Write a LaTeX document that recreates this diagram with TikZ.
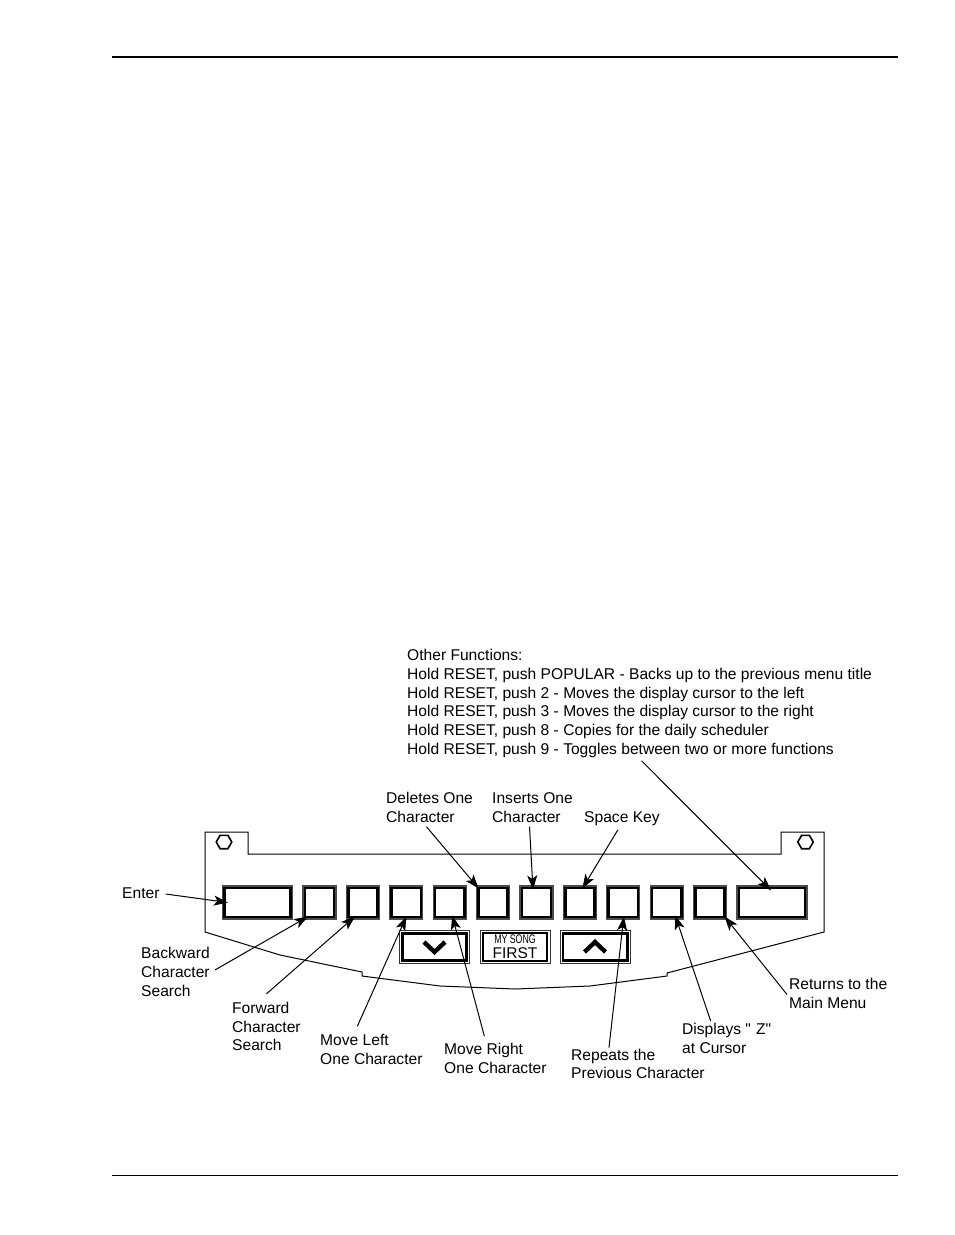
\documentclass[tikz,border=0pt]{standalone}
\usepackage{fontspec}
\setmainfont{Liberation Sans}
\usetikzlibrary{arrows.meta,shapes.geometric}
\newcommand{\straightq}{\XeTeXglyph\XeTeXcharglyph"22 }
\begin{document}
\begin{tikzpicture}[
		x=1pt, y=-1pt,
		node distance=43.4pt,
		keybox/.style={rectangle, draw=black!70, line width=1.2pt, fill=white, inner sep=0pt, minimum height=33pt, minimum width=33pt, align=center,
			path picture={\draw[black, line width=2.6pt] ([shift={(1.9pt,1.9pt)}]path picture bounding box.south west) rectangle ([shift={(-1.9pt,-1.9pt)}]path picture bounding box.north east);}},
		widekey/.style={keybox, minimum width=70pt},
		panelkey/.style={rectangle, draw=black!80, line width=1pt, fill=white, inner sep=0pt, minimum height=33pt, minimum width=70pt, align=center,
			path picture={\draw[black, line width=#1] ([shift={(2.8pt,2.8pt)}]path picture bounding box.south west) rectangle ([shift={(-2.8pt,-2.8pt)}]path picture bounding box.north east);}},
		tag/.style={inner sep=0pt, align=left, font=\fontsize{15.6}{18.75}\selectfont},
		arrow/.style={-{Stealth[length=14pt, width=10pt, inset=3.5pt]}, line width=1pt},
		screw/.style={regular polygon, regular polygon sides=6, draw, line width=1.6pt, inner sep=0pt, minimum size=15.5pt},
		chevron/.style={line width=4.4pt}
	]
	\useasboundingbox (0,0) rectangle (954,1235);
	\draw[line width=2pt] (112,57) -- (898,57);
	\draw[line width=1pt] (112,1175) -- (898,1175);

	% plate
	\draw[line width=1pt] (205,832) -- (248,832) -- (248,854) -- (781,854) -- (781,832) -- (824,832) -- (824,932)
		-- (667,973) -- (667,976) -- (590,986) -- (515,989) -- (440,986) -- (362,976) -- (362,972) -- (280,955) -- (205,932) -- cycle;
	\node[screw] (screwl) at (224,842) {};
	\node[screw] (screwr) at (805.5,842) {};

	% keys
	\node[widekey] (enter) at (257.5,902.5) {};
	\node[keybox] (k1) at (319.5,902.5) {};
	\node[keybox, right of=k1] (k2) {};
	\node[keybox, right of=k2] (k3) {};
	\node[keybox, right of=k3] (k4) {};
	\node[keybox, right of=k4] (k5) {};
	\node[keybox, right of=k5] (k6) {};
	\node[keybox, right of=k6] (k7) {};
	\node[keybox, right of=k7] (k8) {};
	\node[keybox, right of=k8] (k9) {};
	\node[keybox, right of=k9] (k10) {};
	\node[widekey] (popular) at (772,902.5) {};
	\node[panelkey=2.6pt] (down) at (434.5,947) {};
	\node[panelkey=1.8pt, font=\fontsize{15.5}{15}\selectfont] (first) at (515,947) {\scalebox{0.7}[1]{\fontsize{12.5}{12.5}\selectfont MY SONG}\\FIRST};
	\node[panelkey=2.6pt] (up) at (595,947) {};
	\draw[chevron] ([shift={(-10.5pt,5pt)}]down.center) -- ([yshift=-5pt]down.center) -- ([shift={(10.5pt,5pt)}]down.center);
	\draw[chevron] ([shift={(-10.5pt,-5pt)}]up.center) -- ([yshift=5pt]up.center) -- ([shift={(10.5pt,-5pt)}]up.center);

	% labels
	\node[tag, anchor=west] (lenter) at (122,893) {Enter};
	\node[tag, anchor=west] (lback) at (141,972) {Backward\\Character\\Search};
	\node[tag, anchor=west] (lfwd) at (232,1026.5) {Forward\\Character\\Search};
	\node[tag, anchor=west] (lleft) at (320,1049.5) {Move Left\\One Character};
	\node[tag, anchor=west] (lright) at (444,1058.5) {Move Right\\One Character};
	\node[tag, anchor=west] (lrepeat) at (571,1064) {Repeats the\\Previous Character};
	\node[tag, anchor=west] (lz) at (682,1038.5) {Displays \straightq\,\,Z\straightq\\at Cursor};
	\node[tag, anchor=west] (lmain) at (789,993.5) {Returns to the\\Main Menu};
	\node[tag, anchor=west] (ldel) at (386,807.5) {Deletes One\\Character};
	\node[tag, anchor=west] (lins) at (492,807.5) {Inserts One\\Character};
	\node[tag, anchor=west] (lspace) at (584,818.5) {Space Key};
	\node[tag, anchor=west] (lother) at (407,703.5) {Other Functions:\\Hold RESET, push POPULAR - Backs up to the previous menu title\\Hold RESET, push 2 - Moves the display cursor to the left\\Hold RESET, push 3 - Moves the display cursor to the right\\Hold RESET, push 8 - Copies for the daily scheduler\\Hold RESET, push 9 - Toggles between two or more functions};

	% connectors
	\draw[arrow] ([xshift=6pt,yshift=-1pt]lenter.east) -- ([xshift=6pt]enter.west);
	\draw[arrow] ([xshift=5pt,yshift=2pt]lback.east) -- ([shift={(-11.5pt,3pt)}]k1.south);
	\draw[arrow] ([yshift=8pt]lfwd.north) -- ([shift={(-8pt,3pt)}]k2.south);
	\draw[arrow] ([shift={(-14pt,8pt)}]lleft.north) -- ([shift={(0pt,3pt)}]k3.south);
	\draw[arrow] ([shift={(-11pt,7pt)}]lright.north) -- ([shift={(2.5pt,4pt)}]k4.south);
	\draw[arrow] ([shift={(-29pt,1pt)}]lrepeat.north) -- ([shift={(0.5pt,3pt)}]k8.south);
	\draw[arrow] ([shift={(-16pt,2pt)}]lz.north) -- ([shift={(8.5pt,4pt)}]k9.south);
	\draw[arrow] ([yshift=-1pt,xshift=-2pt]lmain.west) -- ([shift={(14.5pt,3pt)}]k10.south);
	\draw[arrow] ([shift={(-3pt,-4pt)}]ldel.south) -- ([shift={(-14.5pt,-3pt)}]k5.north);
	\draw[arrow] ([shift={(-3pt,-4pt)}]lins.south) -- ([shift={(-3.5pt,-4pt)}]k6.north);
	\draw[arrow] ([shift={(-4pt,-4pt)}]lspace.south) -- ([shift={(2.5pt,-3pt)}]k7.north);
	\draw[arrow] ([shift={(2pt,-3pt)}]lother.south) -- ([shift={(-1pt,-5pt)}]popular.north);
\end{tikzpicture}
\end{document}
